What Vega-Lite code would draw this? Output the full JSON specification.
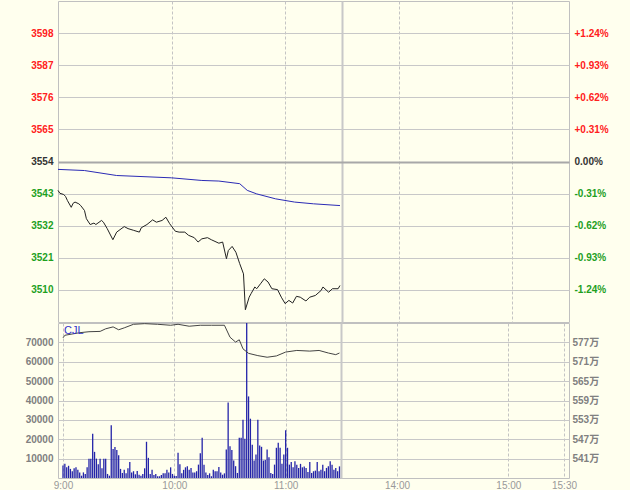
{
  "$schema": "https://vega.github.io/schema/vega-lite/v6.json",
  "background": "#FFFFEE",
  "padding": 0,
  "spacing": -4,
  "config": {
    "view": {"stroke": "#C0C0C0", "strokeWidth": 1},
    "axis": {"labelFont": "Liberation Sans, Noto Sans CJK SC", "labelFontSize": 10, "domain": false, "ticks": false, "tickSize": 0, "labelOverlap": false, "labelFlush": false, "gridColor": "#C8C8C8", "gridOpacity": 1, "titlePadding": 0}
  },
  "datasets": {
    "price": [
      {"m":0,"p":3544.1},{"m":1,"p":3543.1},{"m":3,"p":3542.7},{"m":4,"p":3542.0},{"m":5,"p":3540.6},{"m":7,"p":3538.3},{"m":8,"p":3539.7},{"m":9,"p":3540.1},{"m":11,"p":3539.5},{"m":12,"p":3538.9},{"m":14,"p":3537.2},{"m":15,"p":3534.4},{"m":17,"p":3532.4},{"m":19,"p":3532.9},{"m":20,"p":3532.4},{"m":23,"p":3533.8},{"m":24,"p":3533.2},{"m":26,"p":3531.0},{"m":29,"p":3527.2},{"m":31,"p":3529.8},{"m":35,"p":3531.7},{"m":37,"p":3531.0},{"m":40,"p":3530.4},{"m":43,"p":3529.8},{"m":44,"p":3531.3},{"m":47,"p":3532.4},{"m":50,"p":3534.0},{"m":52,"p":3533.2},{"m":55,"p":3533.8},{"m":57,"p":3534.9},{"m":59,"p":3532.7},{"m":62,"p":3530.1},{"m":64,"p":3529.8},{"m":67,"p":3529.8},{"m":69,"p":3528.7},{"m":72,"p":3527.9},{"m":74,"p":3526.4},{"m":76,"p":3527.5},{"m":79,"p":3527.9},{"m":81,"p":3527.2},{"m":85,"p":3526.0},{"m":87,"p":3526.4},{"m":89,"p":3520.7},{"m":90,"p":3523.5},{"m":92,"p":3524.9},{"m":94,"p":3522.9},{"m":96,"p":3519.0},{"m":98,"p":3515.5},{"m":99,"p":3503.2},{"m":101,"p":3507.5},{"m":102,"p":3508.7},{"m":104,"p":3511.0},{"m":105,"p":3510.4},{"m":107,"p":3512.1},{"m":109,"p":3513.8},{"m":111,"p":3512.7},{"m":113,"p":3510.4},{"m":116,"p":3510.1},{"m":118,"p":3507.5},{"m":120,"p":3505.3},{"m":122,"p":3506.4},{"m":124,"p":3505.5},{"m":126,"p":3507.8},{"m":128,"p":3507.5},{"m":131,"p":3506.2},{"m":133,"p":3507.5},{"m":136,"p":3508.1},{"m":139,"p":3509.8},{"m":140,"p":3511.0},{"m":143,"p":3509.2},{"m":145,"p":3510.4},{"m":148,"p":3510.4},{"m":149,"p":3511.5}
    ],
    "avg": [
      {"m":0,"a":3551.3},{"m":14,"a":3550.9},{"m":31,"a":3549.2},{"m":60,"a":3548.4},{"m":76,"a":3547.5},{"m":85,"a":3547.3},{"m":96,"a":3546.4},{"m":100,"a":3544.1},{"m":105,"a":3542.9},{"m":115,"a":3541.2},{"m":125,"a":3540.1},{"m":135,"a":3539.5},{"m":149,"a":3538.9}
    ],
    "cjl": [
      {"m":0,"c":578.4},{"m":1,"c":579.2},{"m":9,"c":580.0},{"m":14,"c":580.3},{"m":20,"c":580.4},{"m":23,"c":581.2},{"m":27,"c":581.8},{"m":30,"c":580.9},{"m":33,"c":581.5},{"m":38,"c":582.6},{"m":44,"c":582.8},{"m":51,"c":582.6},{"m":58,"c":582.3},{"m":62,"c":582.6},{"m":68,"c":582.0},{"m":74,"c":582.3},{"m":80,"c":582.3},{"m":87,"c":582.3},{"m":90,"c":578.6},{"m":93,"c":577.1},{"m":95,"c":577.8},{"m":97,"c":575.0},{"m":100,"c":573.6},{"m":105,"c":572.9},{"m":110,"c":572.4},{"m":115,"c":572.8},{"m":120,"c":574.0},{"m":126,"c":574.5},{"m":133,"c":574.3},{"m":138,"c":574.5},{"m":143,"c":573.7},{"m":147,"c":573.2},{"m":149,"c":573.7}
    ],
    "vol": [
      {"m":0,"v":6400},{"m":1,"v":7300},{"m":2,"v":5600},{"m":3,"v":6300},{"m":4,"v":4700},{"m":5,"v":3500},{"m":6,"v":5000},{"m":7,"v":5500},{"m":8,"v":4300},{"m":9,"v":2900},
      {"m":10,"v":1200},{"m":11,"v":2900},{"m":12,"v":2100},{"m":13,"v":5500},{"m":14,"v":10000},{"m":15,"v":10000},{"m":16,"v":22800},{"m":17,"v":13500},{"m":18,"v":10000},{"m":19,"v":7100},
      {"m":20,"v":10000},{"m":21,"v":5000},{"m":22,"v":10000},{"m":23,"v":10000},{"m":24,"v":2100},{"m":25,"v":1200},{"m":26,"v":27200},{"m":27,"v":15000},{"m":28,"v":16000},{"m":29,"v":14500},
      {"m":30,"v":11800},{"m":31,"v":4700},{"m":32,"v":2600},{"m":33,"v":4300},{"m":34,"v":2400},{"m":35,"v":5000},{"m":36,"v":8300},{"m":37,"v":2900},{"m":38,"v":3500},{"m":39,"v":1900},
      {"m":40,"v":3600},{"m":41,"v":1700},{"m":42,"v":1200},{"m":43,"v":2100},{"m":44,"v":5000},{"m":45,"v":18700},{"m":46,"v":10400},{"m":47,"v":2100},{"m":48,"v":4300},{"m":49,"v":1600},
      {"m":50,"v":2100},{"m":51,"v":900},{"m":52,"v":900},{"m":53,"v":1600},{"m":54,"v":2400},{"m":55,"v":2400},{"m":56,"v":4300},{"m":57,"v":2900},{"m":58,"v":5500},{"m":59,"v":2100},
      {"m":60,"v":1200},{"m":61,"v":1000},{"m":62,"v":13000},{"m":63,"v":7100},{"m":64,"v":2400},{"m":65,"v":4200},{"m":66,"v":5500},{"m":67,"v":6100},{"m":68,"v":4200},{"m":69,"v":5200},
      {"m":70,"v":2900},{"m":71,"v":2900},{"m":72,"v":3500},{"m":73,"v":6900},{"m":74,"v":12800},{"m":75,"v":20800},{"m":76,"v":6900},{"m":77,"v":2900},{"m":78,"v":1600},{"m":79,"v":2400},
      {"m":80,"v":900},{"m":81,"v":4200},{"m":82,"v":3500},{"m":83,"v":3500},{"m":84,"v":5700},{"m":85,"v":2900},{"m":86,"v":1700},{"m":87,"v":2400},{"m":88,"v":14700},{"m":89,"v":39000},
      {"m":90,"v":16400},{"m":91,"v":14400},{"m":92,"v":9000},{"m":93,"v":6100},{"m":94,"v":2600},{"m":95,"v":20800},{"m":96,"v":20800},{"m":97,"v":30100},{"m":98,"v":20300},{"m":99,"v":80000},
      {"m":100,"v":42100},{"m":101,"v":30600},{"m":102,"v":17100},{"m":103,"v":9000},{"m":104,"v":12100},{"m":105,"v":30100},{"m":106,"v":16800},{"m":107,"v":16100},{"m":108,"v":9000},{"m":109,"v":9300},
      {"m":110,"v":14700},{"m":111,"v":10700},{"m":112,"v":2600},{"m":113,"v":2100},{"m":114,"v":6900},{"m":115,"v":15600},{"m":116,"v":18200},{"m":117,"v":15600},{"m":118,"v":7300},{"m":119,"v":12100},
      {"m":120,"v":24600},{"m":121,"v":15600},{"m":122,"v":6900},{"m":123,"v":8300},{"m":124,"v":5500},{"m":125,"v":8600},{"m":126,"v":6900},{"m":127,"v":5200},{"m":128,"v":7300},{"m":129,"v":5500},
      {"m":130,"v":5900},{"m":131,"v":5200},{"m":132,"v":3100},{"m":133,"v":8300},{"m":134,"v":2600},{"m":135,"v":3500},{"m":136,"v":3800},{"m":137,"v":8300},{"m":138,"v":3500},{"m":139,"v":4300},
      {"m":140,"v":6900},{"m":141,"v":3500},{"m":142,"v":5200},{"m":143,"v":6100},{"m":144,"v":8600},{"m":145,"v":6900},{"m":146,"v":4300},{"m":147,"v":5200},{"m":148,"v":3500},{"m":149,"v":6000}
    ]
  },
  "vconcat": [
    {
      "width": 511,
      "height": 321,
      "layer": [
        {
          "data": {"name": "avg"},
          "mark": {"type": "line", "color": "#2B2BB5", "strokeWidth": 1},
          "encoding": {
            "x": {"field": "m", "type": "quantitative", "title": null, "scale": {"domain": [0, 270], "nice": false, "zero": false},
              "axis": {"title": null, "values": [60, 120, 150, 180, 240], "labels": false, "grid": true, "minExtent": 0, "maxExtent": 0, "labelPadding": 0, "offset": 0,
                "gridDash": {"condition": {"test": "datum.value == 150", "value": []}, "value": [3, 2]},
                "gridWidth": {"condition": {"test": "datum.value == 150", "value": 2}, "value": 1},
                "gridColor": {"condition": {"test": "datum.value == 150", "value": "#C8C8C8"}, "value": "#C4C4C4"}}},
            "y": {"field": "a", "type": "quantitative", "title": null, "scale": {"domain": [3499, 3609], "nice": false, "zero": false},
              "axis": {"title": null, "orient": "left", "values": [3510, 3521, 3532, 3543, 3554, 3565, 3576, 3587, 3598], "grid": true, "format": "d",
                "minExtent": 57, "maxExtent": 57, "labelPadding": 5, "labelFontWeight": "bold",
                "gridWidth": {"condition": {"test": "datum.value == 3554", "value": 2}, "value": 1},
                "gridColor": {"condition": {"test": "datum.value == 3554", "value": "#A8A8A8"}, "value": "#C8C8C8"},
                "labelColor": {"condition": [{"test": "datum.value > 3554", "value": "#FF2020"}, {"test": "datum.value < 3554", "value": "#1EA01E"}], "value": "#333333"}}}
          }
        },
        {
          "data": {"name": "price"},
          "mark": {"type": "line", "color": "#222222", "strokeWidth": 1},
          "encoding": {
            "x": {"field": "m", "type": "quantitative", "title": null},
            "y": {"field": "p", "type": "quantitative", "title": null, "scale": {"domain": [3499, 3609], "nice": false, "zero": false},
              "axis": {"title": null, "orient": "right", "values": [3510, 3521, 3532, 3543, 3554, 3565, 3576, 3587, 3598], "grid": false,
                "minExtent": 60, "maxExtent": 60, "labelPadding": 5, "labelFontWeight": "bold",
                "labelExpr": "datum.value == 3554 ? '0.00%' : (datum.value > 3554 ? '+' : '-') + format(abs(datum.value - 3554) / 3554 * 100, '.2f') + '%'",
                "labelColor": {"condition": [{"test": "datum.value > 3554", "value": "#FF2020"}, {"test": "datum.value < 3554", "value": "#1EA01E"}], "value": "#333333"}}}
          }
        }
      ],
      "resolve": {"axis": {"y": "independent"}}
    },
    {
      "width": 511,
      "height": 155,
      "layer": [
        {
          "data": {"name": "vol"},
          "mark": {"type": "bar", "color": "#2424A8", "size": 1.3},
          "encoding": {
            "x": {"field": "m", "type": "quantitative", "title": null, "scale": {"domain": [0, 270], "nice": false, "zero": false},
              "axis": {"title": null, "values": [0, 60, 120, 150, 180, 240, 270], "grid": true, "labelPadding": 2, "labelColor": "#999999",
                "labelExpr": "datum.value == 0 ? '9:00' : datum.value == 60 ? '10:00' : datum.value == 120 ? '11:00' : datum.value == 180 ? '14:00' : datum.value == 240 ? '15:00' : datum.value == 270 ? '15:30' : ''",
                "gridDash": {"condition": {"test": "datum.value == 150", "value": []}, "value": [3, 2]},
                "gridWidth": {"condition": {"test": "datum.value == 150", "value": 2}, "value": 1},
                "gridColor": {"condition": {"test": "datum.value == 150", "value": "#C8C8C8"}, "value": "#C4C4C4"}}},
            "y": {"field": "v", "type": "quantitative", "title": null, "scale": {"domain": [0, 80000], "nice": false},
              "axis": {"title": null, "orient": "left", "values": [10000, 20000, 30000, 40000, 50000, 60000, 70000], "grid": true, "format": "d",
                "minExtent": 57, "maxExtent": 57, "labelPadding": 5, "labelFontWeight": "bold", "labelColor": "#808080"}}
          }
        },
        {
          "data": {"name": "cjl"},
          "mark": {"type": "line", "color": "#444444", "strokeWidth": 1},
          "encoding": {
            "x": {"field": "m", "type": "quantitative", "title": null},
            "y": {"field": "c", "type": "quantitative", "title": null, "scale": {"domain": [535, 583], "nice": false, "zero": false},
              "axis": {"title": null, "orient": "right", "values": [541, 547, 553, 559, 565, 571, 577], "grid": false,
                "minExtent": 60, "maxExtent": 60, "labelPadding": 3, "labelColor": "#808080", "labelFontWeight": "bold",
                "labelExpr": "datum.value + '万'"}}
          }
        },
        {
          "data": {"values": [{"label": "CJL", "m": 0, "c": 580.5}]},
          "mark": {"type": "text", "color": "#3333CC", "align": "left", "baseline": "middle", "dx": 1, "font": "Liberation Sans", "fontSize": 11},
          "encoding": {
            "text": {"field": "label"},
            "x": {"field": "m", "type": "quantitative", "title": null},
            "y": {"field": "c", "type": "quantitative", "title": null, "scale": {"domain": [535, 583], "nice": false, "zero": false}, "axis": null}
          }
        }
      ],
      "resolve": {"scale": {"y": "independent"}}
    }
  ]
}
